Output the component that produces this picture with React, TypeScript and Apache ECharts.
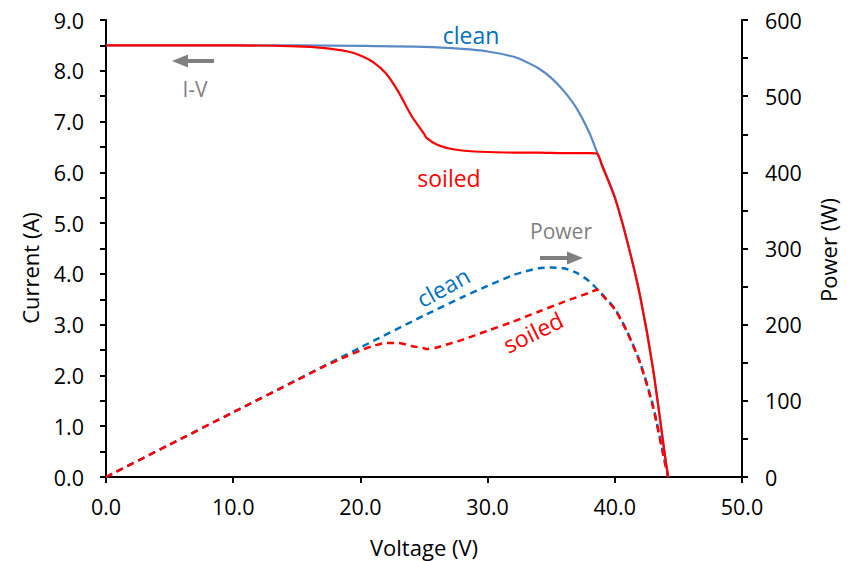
import React, { useEffect, useRef } from "react";
import * as echarts from "echarts";

// Voltage (V) sample points and readings
const vClean = [0, 5, 10, 15, 20, 25, 28, 30, 32, 33, 34, 35, 36, 37, 38, 38.6, 39, 40, 41, 42, 43, 44, 44.2];
const iClean = [8.5, 8.5, 8.5, 8.5, 8.49, 8.47, 8.43, 8.38, 8.28, 8.18, 8.05, 7.86, 7.6, 7.26, 6.78, 6.4, 6.15, 5.52, 4.62, 3.55, 2.14, 0.32, 0];
const pClean = [0, 42.5, 85, 127.5, 170, 212, 236, 251, 265, 270, 274, 275, 274, 268, 257, 247, 240, 221, 190, 150, 94, 15, 0];

const vSoiled = [0, 5, 10, 15, 17, 19, 20, 21, 22, 23, 24, 25, 25.2, 26, 27, 28, 29, 30, 32, 34, 36, 38, 38.6, 39, 40, 41, 42, 43, 44, 44.2];
const iSoiled = [8.5, 8.5, 8.5, 8.48, 8.45, 8.38, 8.3, 8.17, 7.95, 7.58, 7.12, 6.76, 6.68, 6.55, 6.47, 6.43, 6.41, 6.4, 6.39, 6.39, 6.38, 6.38, 6.37, 6.13, 5.5, 4.62, 3.55, 2.14, 0.32, 0];
const pSoiled = [0, 42.5, 85, 127, 144, 159, 166, 172, 176, 176, 172, 169, 168, 170, 175, 180, 186, 192, 204, 217, 230, 242, 246, 239, 220, 189, 149, 92, 14, 0];

const xTicks = { min: 0, max: 50, interval: 10 };
const yLeftTicks = { min: 0, max: 9, interval: 1 };
const yRightTicks = { min: 0, max: 600, interval: 100 };

const FONT = "Open Sans";
const BLUE_SOLID = "#5a8ac6";
const BLUE_DASH = "#0070c0";
const RED = "#ff0000";
const GRAY = "#7f7f7f";

const pairs = (xs: number[], ys: number[]) => xs.map((x, i) => [x, ys[i]]);

export default function App() {
  const ref = useRef<HTMLDivElement>(null);
  useEffect(() => {
    if (!ref.current) return;
    const chart = echarts.init(ref.current, undefined, { renderer: "svg" });
    const axisLine = { show: true, lineStyle: { color: "#000", width: 2 } };
    const tick = { show: true, inside: false, length: 6, lineStyle: { color: "#000", width: 2 } };
    const label = { color: "#000", fontFamily: FONT, fontSize: 21.5 };
    const txt = (text: string, x: number, y: number, fill: string, size: number, rot = 0) => ({
      type: "text",
      x,
      y,
      rotation: rot,
      style: { text, font: `${size}px "${FONT}"`, fill, align: "center", verticalAlign: "middle" },
    });
    chart.setOption({
      animation: false,
      backgroundColor: "#fff",
      grid: { left: 106, right: 110, top: 20, bottom: 84 },
      xAxis: {
        type: "value",
        ...xTicks,
        axisLine,
        axisTick: tick,
        splitLine: { show: false },
        axisLabel: { ...label, margin: 18, formatter: (v: number) => v.toFixed(1) },
      },
      yAxis: [
        {
          type: "value",
          ...yLeftTicks,
          position: "left",
          axisLine,
          axisTick: tick,
          minorTick: { show: true, splitNumber: 2, length: 6, lineStyle: { color: "#000", width: 2 } },
          splitLine: { show: false },
          axisLabel: { ...label, margin: 22, formatter: (v: number) => v.toFixed(1) },
        },
        {
          type: "value",
          ...yRightTicks,
          position: "right",
          axisLine,
          axisTick: tick,
          minorTick: { show: true, splitNumber: 2, length: 6, lineStyle: { color: "#000", width: 2 } },
          splitLine: { show: false },
          axisLabel: { ...label, margin: 23 },
        },
      ],
      series: [
        {
          name: "Power clean",
          type: "line",
          yAxisIndex: 1,
          data: pairs(vClean, pClean),
          smooth: 0.25,
          showSymbol: false,
          lineStyle: { color: BLUE_DASH, width: 2.5, type: [7, 5] },
        },
        {
          name: "Power soiled",
          type: "line",
          yAxisIndex: 1,
          data: pairs(vSoiled, pSoiled),
          smooth: 0.25,
          showSymbol: false,
          lineStyle: { color: RED, width: 2.5, type: [7, 5] },
        },
        {
          name: "I-V clean",
          type: "line",
          yAxisIndex: 0,
          data: pairs(vClean, iClean),
          smooth: 0.25,
          showSymbol: false,
          lineStyle: { color: BLUE_SOLID, width: 2.2 },
        },
        {
          name: "I-V soiled",
          type: "line",
          yAxisIndex: 0,
          data: pairs(vSoiled, iSoiled),
          smooth: 0.25,
          showSymbol: false,
          lineStyle: { color: RED, width: 2.2 },
        },
      ],
      graphic: [
        txt("Voltage (V)", 424, 547, "#000", 22),
        txt("Current (A)", 30, 268, "#000", 22, Math.PI / 2),
        txt("Power (W)", 828, 250, "#000", 22, Math.PI / 2),
        txt("clean", 471, 35, BLUE_DASH, 23),
        txt("soiled", 449, 178, RED, 23),
        txt("clean", 443, 287, BLUE_DASH, 23, (29 * Math.PI) / 180),
        txt("soiled", 533, 332, RED, 23, (26 * Math.PI) / 180),
        txt("I-V", 195, 89, GRAY, 21),
        txt("Power", 561, 231, GRAY, 21),
        { type: "line", shape: { x1: 214, y1: 61, x2: 186, y2: 61 }, style: { stroke: GRAY, lineWidth: 4 } },
        { type: "polygon", shape: { points: [[172, 61], [188, 54.5], [188, 67.5]] }, style: { fill: GRAY } },
        { type: "line", shape: { x1: 540, y1: 258, x2: 569, y2: 258 }, style: { stroke: GRAY, lineWidth: 4 } },
        { type: "polygon", shape: { points: [[583, 258], [567, 251.5], [567, 264.5]] }, style: { fill: GRAY } },
      ],
    });
    return () => chart.dispose();
  }, []);
  return <div ref={ref} style={{ width: 852, height: 561, position: "absolute", left: 0, top: 0 }} />;
}
